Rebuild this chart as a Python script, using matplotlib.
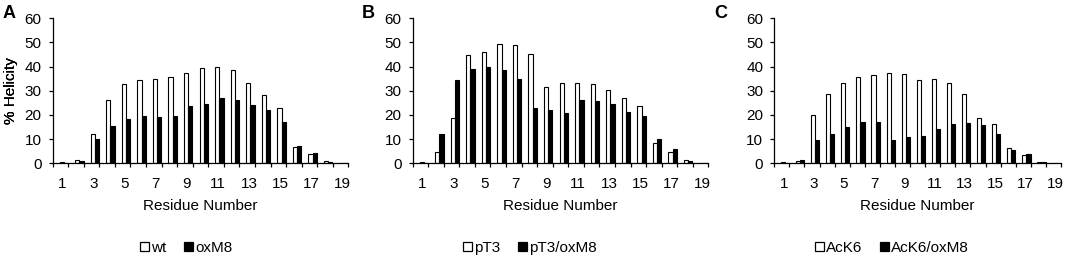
import numpy as np
import matplotlib
matplotlib.use("Agg")
import matplotlib.pyplot as plt
from matplotlib.patches import Patch
from matplotlib.ticker import FixedLocator, NullFormatter

plt.rcParams["font.family"] = ["Liberation Sans", "DejaVu Sans"]

residues = list(range(1, 20))
tick_residues = [1, 3, 5, 7, 9, 11, 13, 15, 17, 19]
y_ticks = [0, 10, 20, 30, 40, 50, 60]

wt = [0.5, 1.5, 12, 26.2, 32.8, 34.4, 35, 35.6, 37.5, 39.3, 39.9, 38.7, 33.1, 28.2, 23, 6.8, 4, 0.8, 0]
oxM8 = [0.2, 1.0, 10.1, 15.4, 18.5, 19.4, 19.2, 19.4, 23.7, 24.7, 26.9, 26.2, 24.3, 22.1, 17.2, 7.3, 4.3, 0.5, 0]

pT3 = [0.5, 4.6, 18.8, 44.8, 46.2, 49.4, 49.1, 45.1, 31.6, 33.4, 33.4, 32.8, 30.5, 27.2, 23.9, 8.6, 4.7, 1.2, 0]
pT3_oxM8 = [0.3, 12, 34.5, 39.2, 40, 38.5, 34.9, 22.8, 22.2, 20.7, 26.2, 25.8, 24.6, 21.4, 19.4, 10.1, 5.8, 0.8, 0]

AcK6 = [0.4, 0.8, 20.1, 28.6, 33.4, 35.6, 36.4, 37.5, 36.8, 34.5, 35, 33.1, 28.6, 18.8, 16.3, 6.2, 3.3, 0.6, 0]
AcK6_oxM8 = [0.2, 1.5, 9.7, 12.3, 15, 17.2, 17, 9.7, 10.8, 11.2, 14.3, 16.3, 16.7, 15.9, 12.3, 5.7, 3.7, 0.5, 0]

panels = [
    ("A", wt, oxM8, "wt", "oxM8"),
    ("B", pT3, pT3_oxM8, "pT3", "pT3/oxM8"),
    ("C", AcK6, AcK6_oxM8, "AcK6", "AcK6/oxM8"),
]

W, H = 1072, 260
fig = plt.figure(figsize=(W / 100, H / 100), dpi=100)

# pixel layouts: (left, right, top, bottom, letter_x, legend_x)
layout = [
    (52.7, 348.3, 18.3, 163.3, 3, 140),
    (412.7, 708.3, 18.3, 163.3, 362, 463),
    (774.3, 1061, 18.3, 163.3, 714, 815),
]

FS = 11
x = np.array(residues, dtype=float)

for (letter, s1, s2, l1, l2), (L, R, T, B, lx, legx) in zip(panels, layout):
    ax = fig.add_axes([L / W, 1 - B / H, (R - L) / W, (B - T) / H])
    ax.bar(x - 0.06, s1, width=0.27, align="edge", color="white",
           edgecolor="black", linewidth=0.8, label=l1)
    ax.bar(x + 0.21, s2, width=0.27, align="edge", color="black",
           edgecolor="black", linewidth=0.8, label=l2)
    ax.set_xlim(0.5, 19.5)
    ax.set_ylim(0, 60)
    ax.set_yticks(y_ticks)
    ax.set_xticks([r + 0.12 for r in tick_residues])
    ax.set_xticklabels([str(r) for r in tick_residues])
    ax.xaxis.set_minor_locator(FixedLocator([r - 0.5 for r in residues] + [19.5]))
    ax.xaxis.set_minor_formatter(NullFormatter())
    ax.tick_params(axis="x", which="major", length=0, pad=10, labelsize=FS)
    ax.tick_params(axis="x", which="minor", length=3.0, width=0.9, direction="out")
    ax.tick_params(axis="y", which="major", length=3.0, width=0.9, direction="out",
                   pad=5, labelsize=FS)
    for sp in ("top", "right"):
        ax.spines[sp].set_visible(False)
    for sp in ("left", "bottom"):
        ax.spines[sp].set_linewidth(0.9)
    wpx = R - L
    hpx = B - T
    ax.set_ylabel("% Helicity", fontsize=FS, va="center")
    ax.yaxis.set_label_coords((11 - L) / wpx, 0.5)
    ax.set_xlabel("Residue Number", fontsize=FS, va="center")
    ax.xaxis.set_label_coords(0.5, (B - 206) / hpx)
    fig.text(lx / W, 1 - 18 / H, letter, fontsize=13, fontweight="bold",
             ha="left", va="baseline")
    handles = [Patch(facecolor="white", edgecolor="black", linewidth=0.9),
               Patch(facecolor="black", edgecolor="black", linewidth=0.9)]
    fig.legend(handles, [l1, l2], loc="center left",
               bbox_to_anchor=(legx / W, 1 - 248 / H), ncol=2, frameon=False,
               fontsize=FS, handlelength=0.6, handleheight=0.6,
               handletextpad=0.15, columnspacing=1.1, borderpad=0,
               borderaxespad=0)

fig.savefig("out.png", dpi=100)
